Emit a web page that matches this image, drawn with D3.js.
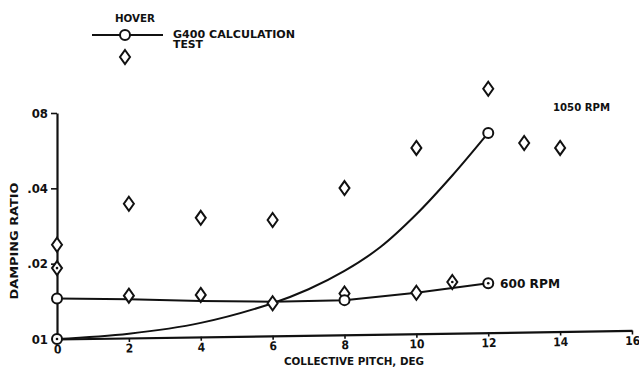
<!DOCTYPE html>
<html>
<head>
<meta charset="utf-8">
<style>
  body { margin: 0; background: #fff; }
  svg text { font-family: "DejaVu Sans Condensed", "Liberation Sans Narrow", sans-serif; font-weight: bold; fill: #111; }
</style>
<title>Damping ratio vs collective pitch</title>
</head>
<body>
<script src="https://cdn.jsdelivr.net/npm/d3@7"></script>
<script>

// Data
var xTicks = [0, 2, 4, 6, 8, 10, 12, 14, 16];
var yTicks = [0.01, 0.02, 0.04, 0.08];
var yTickLabels = ["01", ".02", ".04", "08"];

// G400 calculation, 1050 RPM (smooth curve, circles at ends)
var calc1050 = [[0, 0.0100], [2, 0.0105], [4, 0.0116], [6, 0.0139], [7, 0.0158], [8, 0.0187], [9, 0.0233], [10, 0.0315], [11, 0.0450], [12, 0.0666]];
var calc1050Marks = [[0, 0.0100], [12, 0.0666]];

// G400 calculation, 600 RPM
var calc600 = [[0, 0.0145], [2, 0.0144], [4, 0.0142], [6, 0.0141], [8, 0.0143], [10, 0.0153], [12, 0.0167]];
var calc600Marks = [[0, 0.0145], [8, 0.0143], [12, 0.0167]];

// Test points
var test1050 = [[0, 0.0238], [0, 0.0192], [2, 0.0347], [4, 0.0305], [6, 0.0299], [8, 0.0401], [10, 0.0580], [12, 0.1000], [13, 0.0607], [14, 0.0580]];
var test600 = [[2, 0.0149], [4, 0.0150], [6, 0.0139], [8, 0.0152], [10, 0.0153], [11, 0.0169]];

// points drawn with a dot in the middle
var dotted = [[0, 0.0100], [12, 0.0167], [0, 0.0192], [11, 0.0169]];

var svg = d3.select("body").append("svg")
    .attr("width", 639)
    .attr("height", 378);

var x = d3.scaleLinear().domain([0, 16]).range([57, 632]);
var y = d3.scaleLog().domain([0.01, 0.08]).range([339, 113]);

// axes
var xAxis = d3.axisBottom(x).tickValues(xTicks).tickSize(4).tickSizeOuter(0).tickPadding(2);
var gx = svg.append("g")
    .attr("transform", `translate(0,${y(0.01)}) rotate(-0.85 ${x(0)} 0)`)
    .call(xAxis);
gx.select(".domain").attr("stroke-width", 2.2).attr("stroke", "#111");
gx.selectAll(".tick line").attr("stroke-width", 1.6).attr("stroke", "#111");
gx.selectAll(".tick text").style("font-size", "12px").attr("fill", "#111");

var yAxis = d3.axisLeft(y).tickValues(yTicks).tickSize(6).tickSizeOuter(0).tickPadding(3)
    .tickFormat((d, i) => yTickLabels[i]);
var gy = svg.append("g")
    .attr("transform", `translate(${x(0)},0)`)
    .call(yAxis);
gy.select(".domain").attr("stroke-width", 2.2).attr("stroke", "#111");
gy.selectAll(".tick line").attr("stroke-width", 1.6).attr("stroke", "#111");
gy.selectAll(".tick text").style("font-size", "13px").attr("fill", "#111");
gy.selectAll(".tick").filter(d => d == 0.01).select("line").remove();

// axis titles
svg.append("text")
    .attr("x", 354).attr("y", 365)
    .attr("text-anchor", "middle")
    .attr("textLength", 140).attr("lengthAdjust", "spacingAndGlyphs")
    .style("font-size", "11px")
    .text("COLLECTIVE PITCH, DEG");

svg.append("text")
    .attr("transform", "translate(18,241) rotate(-90)")
    .attr("text-anchor", "middle")
    .attr("textLength", 117).attr("lengthAdjust", "spacingAndGlyphs")
    .style("font-size", "11px")
    .text("DAMPING RATIO");

// curves
var line = d3.line().x(d => x(d[0])).y(d => y(d[1]));

svg.append("path")
    .datum(calc1050)
    .attr("d", line.curve(d3.curveCatmullRom))
    .attr("fill", "none").attr("stroke", "#111").attr("stroke-width", 2);

svg.append("path")
    .datum(calc600)
    .attr("d", line.curve(d3.curveLinear))
    .attr("fill", "none").attr("stroke", "#111").attr("stroke-width", 2);

// diamonds for test points
var diamond = "M 0,-7 L 5,0 L 0,7 L -5,0 Z";
svg.selectAll(".test")
    .data(test1050.concat(test600))
  .enter().append("path")
    .attr("class", "test")
    .attr("d", diamond)
    .attr("transform", d => `translate(${x(d[0])},${y(d[1])})`)
    .attr("fill", "#fff").attr("stroke", "#111").attr("stroke-width", 2);

// circles for calculation points
svg.selectAll(".calc")
    .data(calc1050Marks.concat(calc600Marks))
  .enter().append("circle")
    .attr("class", "calc")
    .attr("cx", d => x(d[0])).attr("cy", d => y(d[1]))
    .attr("r", 5)
    .attr("fill", "#fff").attr("stroke", "#111").attr("stroke-width", 2);

svg.selectAll(".dot")
    .data(dotted)
  .enter().append("circle")
    .attr("class", "dot")
    .attr("cx", d => x(d[0])).attr("cy", d => y(d[1]))
    .attr("r", 1.3)
    .attr("fill", "#111");

// curve labels
svg.append("text").attr("x", 553).attr("y", 111)
    .attr("textLength", 57).attr("lengthAdjust", "spacingAndGlyphs")
    .style("font-size", "11px").text("1050 RPM");
svg.append("text").attr("x", 500).attr("y", 288)
    .attr("textLength", 60).attr("lengthAdjust", "spacingAndGlyphs")
    .style("font-size", "12px").text("600 RPM");

// legend
svg.append("text").attr("x", 115).attr("y", 22)
    .attr("textLength", 40).attr("lengthAdjust", "spacingAndGlyphs")
    .style("font-size", "10px").text("HOVER");
svg.append("line").attr("x1", 92).attr("x2", 163).attr("y1", 35).attr("y2", 35)
    .attr("stroke", "#111").attr("stroke-width", 2);
svg.append("circle").attr("cx", 125).attr("cy", 35).attr("r", 5)
    .attr("fill", "#fff").attr("stroke", "#111").attr("stroke-width", 2);
svg.append("text").attr("x", 173).attr("y", 38)
    .attr("textLength", 122).attr("lengthAdjust", "spacingAndGlyphs")
    .style("font-size", "10px").text("G400 CALCULATION");
svg.append("text").attr("x", 173).attr("y", 47.5)
    .attr("textLength", 30).attr("lengthAdjust", "spacingAndGlyphs")
    .style("font-size", "10px").text("TEST");
svg.append("path").attr("d", diamond)
    .attr("transform", "translate(125,57)")
    .attr("fill", "#fff").attr("stroke", "#111").attr("stroke-width", 2);

</script>
</body>
</html>
